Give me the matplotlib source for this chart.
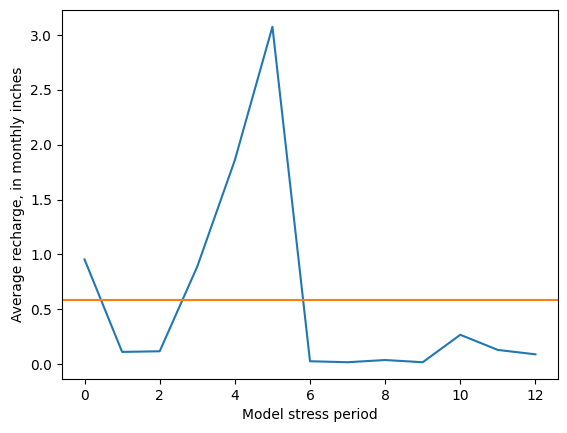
import matplotlib
matplotlib.use("Agg")
import matplotlib.pyplot as plt

# average recharge per stress period
periods = list(range(13))
recharge = [0.955, 0.112, 0.118, 0.89, 1.86, 3.075, 0.027, 0.018, 0.038, 0.018, 0.268, 0.13, 0.09]
mean_recharge = 0.585

fig = plt.figure(figsize=(5.67, 4.33), dpi=100)
ax = fig.add_axes([62 / 567, 1 - 379 / 433, 496 / 567, 369 / 433])

ax.plot(periods, recharge)
ax.axhline(mean_recharge, color="C1")

ax.set_xlabel("Model stress period")
ax.set_ylabel("Average recharge, in monthly inches")

fig.savefig("out.png", dpi=100)
